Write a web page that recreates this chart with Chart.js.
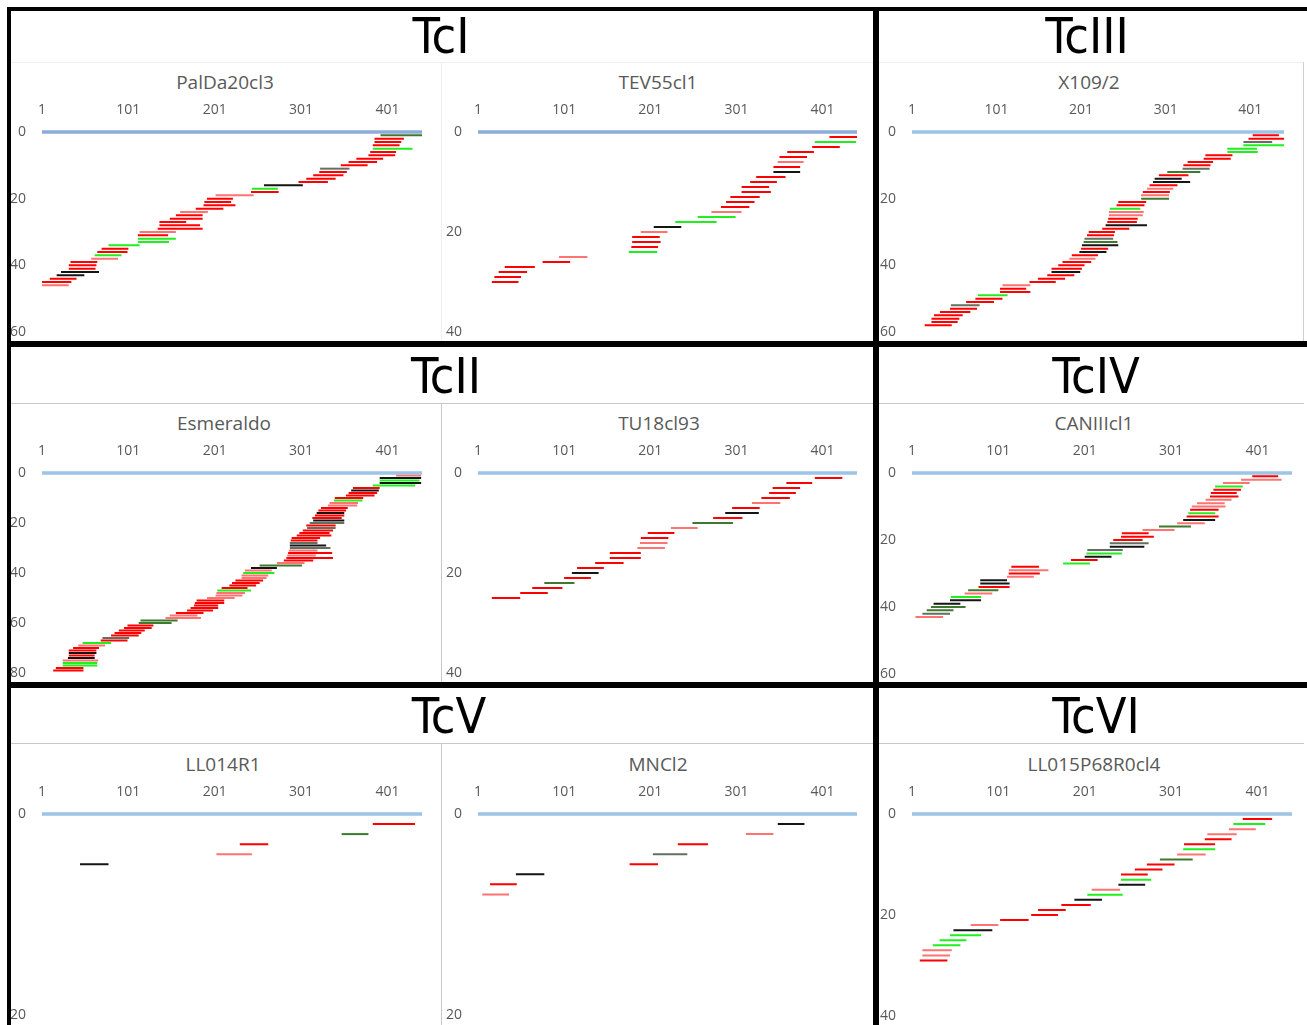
<!DOCTYPE html>
<html>
<head>
<meta charset="utf-8">
<title>Read coverage</title>
<script src="https://cdn.jsdelivr.net/npm/chart.js@4.4.1/dist/chart.umd.min.js"></script>
<style>
  html, body { margin: 0; padding: 0; background: #fff; }
  #fig { position: relative; width: 1307px; height: 1025px; overflow: hidden; background: #fff; }
  #fig canvas { position: absolute; z-index: 2; }
  .bar { position: absolute; background: #000; z-index: 6; }
  .thin { position: absolute; background: #d0d0d0; z-index: 1; }
  .group { position: absolute; z-index: 3; text-align: center; color: #000; line-height: 50px;
           font-family: "Liberation Sans Narrow", "Arial Narrow", "DejaVu Sans Condensed", sans-serif; font-size: 50px; }
  .sub { position: absolute; z-index: 3; text-align: center; color: #595959; line-height: 24px;
         font-family: "Open Sans", "Liberation Sans", sans-serif; font-size: 19px; }
</style>
</head>
<body>
<div id="fig"></div>
<script>
// shared axis values
const xTicks = [1, 101, 201, 301, 401];
const seqSpan = [1, 441];

// TcI - PalDa20cl3
const palStart = [393,386,386,384,384, 381,379,365,356,347, 323,322,315,307,298, 258,244,243,202,192,
                  189,188,179,161,156, 149,137,137,135,114, 112,112,112,78,70, 65,62,58,34,32, 32,23,18,10,1, 1];
const palEnd = [441,420,417,415,430, 411,410,396,389,378, 357,354,350,341,332, 303,274,275,246,222,
                220,225,211,193,187, 187,168,184,187,156, 147,156,148,114,101, 100,93,89,65,64, 63,67,50,41,35, 32];
const palColor = 'drrrg rrrrr srrrr kgrpr rrrpr rrrrp rgggr rgprr rkkrr p';

// TcI - TEV55cl1
const tevStart = [409,392,389,360,351, 349,344,344,324,317, 307,307,294,289,283, 272,256,230,205,190,
                  180,180,179,176,95, 76,32,25,20,17];
const tevEnd = [441,440,421,391,383, 379,375,375,358,348, 339,341,328,322,316, 307,300,278,237,221,
                212,213,210,209,128, 108,67,58,51,48];
const tevColor = 'rgrrr prkrr rrrrr pggkp rrrgp rrrrr';

// TcIII - X109/2
const x109Start = [404,399,393,393,374, 374,348,346,327,322, 321,303,293,288,286, 282,279,274,272,272,
                   245,243,235,234,234, 233,232,230,226,210, 208,205,204,202,201, 199,190,187,179,174,
                   166,166,161,150,140, 108,105,105,79,76, 65,47,46,34,27, 24,24,16];
const x109End = [435,441,427,441,409, 410,380,378,357,354, 353,342,328,320,330, 315,310,306,305,305,
                 278,276,271,275,274, 268,267,279,258,241, 240,239,244,245,233, 231,221,218,213,205,
                 202,200,193,182,171, 141,136,141,114,108, 98,81,78,70,61, 57,55,48];
const x109Color = 'rrsgg grrrr sdrkk rprpd rrgpp rrkrr rsdkr krprr rkrrr prrgr rsrrr rrr';

// TcII - Esmeraldo
const esmStart = [411,392,392,392,384, 361,359,356,353,340, 339,334,332,324,321, 319,317,314,315,311,
                  307,308,303,299,296, 290,289,288,288,288, 287,286,285,284,281, 273,253,243,236,234,
                  232,232,225,221,218, 209,204,203,202,192, 180,178,177,173,169, 156,149,144,115,113,
                  100,96,90,85,81, 71,69,48,43,37, 32,32,32,31,25, 25,25,17,14];
const esmEnd = [440,440,438,440,433, 392,391,389,386,373, 372,367,366,355,353, 351,351,348,351,351,
                341,341,338,334,336, 323,320,320,330,335, 320,337,318,338,315, 305,302,273,267,270,
                263,261,257,253,249, 239,243,236,233,224, 212,212,205,205,199, 188,181,185,158,151,
                130,128,120,116,113, 102,100,81,74,67, 64,64,62,62,66, 65,65,49,49];
const esmColor = 'pkgkg rkrrr gpprr krrks rsrrr rrsks prprr pdkpg pprrr rgppp rrrrr rppdd rrrrr srgpr rkrkp ggrr';

// TcII - TU18cl93
const tuStart = [392,359,343,339,330, 319,296,288,274,250, 225,198,190,189,186, 154,154,137,116,110,
                 101,78,64,50,17];
const tuEnd = [424,389,375,370,363, 352,328,327,308,297, 256,229,222,221,218, 190,190,170,147,141,
               132,113,99,82,50];
const tuColor = 'rrrrr prkrd prrpp rrrrk rdrrr';

// TcIV - CANIIIcl1
const canStart = [395,382,361,352,350, 347,346,341,331,325, 323,321,319,315,308, 287,268,244,243,234,
                  230,230,204,203,201, 185,176,116,113,113, 111,80,80,78,66, 62,46,45,26,23, 18,13,5];
const canEnd = [425,429,392,384,382, 377,379,371,363,364, 356,352,356,352,340, 324,305,275,281,268,
                275,270,245,244,232, 216,207,148,159,149, 142,111,114,114,101, 94,81,81,57,63, 49,45,37];
const canColor = 'rppgr rrppp rgrkp dprrr sksgk rgrpr pkkrd pgkkd dsp';

// TcV - LL014R1
const ll14Start = [384,348,230,203,45];
const ll14End = [433,379,263,244,78];
const ll14Color = 'rdrpk';

// TcV - MNCl2
const mnStart = [349,312,233,204,177,45,15,6];
const mnEnd = [380,344,268,244,210,78,46,37];
const mnColor = 'kprsr krp';

// TcVI - LL015P68R0cl4
const ll15Start = [384,373,368,343,340, 316,315,308,288,273, 259,243,243,240,209, 204,189,174,147,139,
                   103,69,49,45,33, 25,13,13,10];
const ll15End = [418,410,399,377,371, 352,352,341,326,305, 291,274,278,271,242, 245,221,208,179,170,
                 136,101,94,81,64, 57,47,45,42];
const ll15Color = 'rgppr rgpdr rrgkp gkrrr rpkgg gppr';

const COLORS = { r: '#ff0000', p: '#ff7373', g: '#1ef01e', d: '#3d7a2e', k: '#151515', s: '#627062' };
const TEXT = '#595959';
const TICK_FONT = { family: '"Open Sans", "Liberation Sans", sans-serif', size: 14 };

// plot = [left px of x=1, right px of x=441, top px of y=0, bottom px of y=max]
const panels = [
    { name: 'PalDa20cl3', start: palStart, end: palEnd, color: palColor, yMax: 60, plot: [42, 422, 132, 332], ref: '#8eaadb' },
    { name: 'TEV55cl1', start: tevStart, end: tevEnd, color: tevColor, yMax: 40, plot: [478, 857, 132, 332], ref: '#8eaadb' },
    { name: 'X109/2', start: x109Start, end: x109End, color: x109Color, yMax: 60, plot: [912, 1284, 132, 332], ref: '#9dc3e6' },
    { name: 'Esmeraldo', start: esmStart, end: esmEnd, color: esmColor, yMax: 80, plot: [42, 422, 473, 673], ref: '#9dc3e6' },
    { name: 'TU18cl93', start: tuStart, end: tuEnd, color: tuColor, yMax: 40, plot: [478, 857, 473, 673], ref: '#9dc3e6' },
    { name: 'CANIIIcl1', start: canStart, end: canEnd, color: canColor, yMax: 60, plot: [912, 1292, 473, 674], ref: '#9dc3e6' },
    { name: 'LL014R1', start: ll14Start, end: ll14End, color: ll14Color, yMax: 20, plot: [42, 422, 814, 1015], ref: '#9dc3e6' },
    { name: 'MNCl2', start: mnStart, end: mnEnd, color: mnColor, yMax: 20, plot: [478, 857, 814, 1015], ref: '#9dc3e6' },
    { name: 'LL015P68R0cl4', start: ll15Start, end: ll15End, color: ll15Color, yMax: 40, plot: [912, 1292, 814, 1016], ref: '#9dc3e6' }
];

const groups = [
    { text: 'TcI', cx: 441, top: 11 }, { text: 'TcIII', cx: 1087, top: 11 },
    { text: 'TcII', cx: 446, top: 351 }, { text: 'TcIV', cx: 1096, top: 351 },
    { text: 'TcV', cx: 449, top: 691 }, { text: 'TcVI', cx: 1096, top: 691 }
];
const subCenters = [[225, 82], [658, 82], [1089, 82], [224, 423], [659, 423], [1094, 423], [223, 764], [658, 764], [1094, 764]];

const fig = document.getElementById('fig');

function addDiv(cls, css, text) {
    const d = document.createElement('div');
    d.className = cls;
    Object.assign(d.style, css);
    if (text) d.textContent = text;
    fig.appendChild(d);
    return d;
}

// frame: thick black rules and thin grey chart borders
[[7, 7, 1300, 4], [7, 7, 4, 1018], [873, 7, 6, 1018], [7, 341, 1300, 6], [7, 682, 1300, 6]].forEach(function (b) {
    addDiv('bar', { left: b[0] + 'px', top: b[1] + 'px', width: b[2] + 'px', height: b[3] + 'px' });
});
[[11, 62, 862, 1, '#f0f0f0'], [879, 62, 425, 1, '#f0f0f0'], [441, 62, 1, 279, '#f0f0f0'], [1303, 62, 1, 279, '#d0d0d0'],
 [11, 403, 862, 1, '#c8c8c8'], [879, 403, 425, 1, '#c8c8c8'], [441, 403, 1, 279, '#c8c8c8'],
 [11, 743, 862, 1, '#c8c8c8'], [879, 743, 425, 1, '#c8c8c8'], [441, 743, 1, 282, '#c8c8c8']].forEach(function (b) {
    addDiv('thin', { left: b[0] + 'px', top: b[1] + 'px', width: b[2] + 'px', height: b[3] + 'px', background: b[4] });
});

groups.forEach(function (g) {
    addDiv('group', { left: (g.cx - 100) + 'px', top: g.top + 'px', width: '200px' }, g.text);
});

function buildDatasets(p) {
    const sets = [{
        data: [{ x: seqSpan[0], y: 0 }, { x: seqSpan[1], y: 0 }],
        borderColor: p.ref,
        borderWidth: 3.5
    }];
    const codes = p.color.replace(/ /g, '');
    Object.keys(COLORS).forEach(function (c) {
        const pts = [];
        for (let i = 0; i < p.start.length; i++) {
            if (codes[i] !== c) continue;
            pts.push({ x: p.start[i], y: i + 1 }, { x: p.end[i], y: i + 1 }, { x: p.end[i], y: null });
        }
        if (pts.length) sets.push({ data: pts, borderColor: COLORS[c], borderWidth: 2 });
    });
    return sets;
}

// y tick labels reserve half a label + tick padding below the plot, so the bottom pad must exceed that
const AXIS_W = 34, AXIS_H = 36, PAD_R = 8, PAD_B = 26;

panels.forEach(function (p, idx) {
    addDiv('sub', { left: (subCenters[idx][0] - 150) + 'px', top: (subCenters[idx][1] - 12) + 'px', width: '300px' }, p.name);

    const canvas = document.createElement('canvas');
    const w = p.plot[1] - p.plot[0] + AXIS_W + PAD_R;
    const h = p.plot[3] - p.plot[2] + AXIS_H + PAD_B;
    canvas.width = w;
    canvas.height = h;
    canvas.style.left = (p.plot[0] - AXIS_W) + 'px';
    canvas.style.top = (p.plot[2] - AXIS_H) + 'px';
    canvas.style.width = w + 'px';
    canvas.style.height = h + 'px';
    fig.appendChild(canvas);

    new Chart(canvas.getContext('2d'), {
        type: 'scatter',
        data: { datasets: buildDatasets(p) },
        options: {
            responsive: false,
            animation: false,
            devicePixelRatio: 1,
            layout: { padding: { top: 0, left: 0, right: PAD_R, bottom: PAD_B }, autoPadding: false },
            datasets: {
                scatter: { showLine: true, pointRadius: 0, pointHoverRadius: 0, spanGaps: false, clip: false, borderCapStyle: 'butt' }
            },
            scales: {
                x: {
                    type: 'linear',
                    position: 'top',
                    min: seqSpan[0],
                    max: seqSpan[1],
                    grid: { display: false, drawTicks: false },
                    border: { display: false },
                    afterBuildTicks: function (axis) { axis.ticks = xTicks.map(function (v) { return { value: v }; }); },
                    afterFit: function (s) { s.height = AXIS_H; },
                    ticks: { color: TEXT, font: TICK_FONT, padding: 14, maxRotation: 0, autoSkip: false }
                },
                y: {
                    type: 'linear',
                    reverse: true,
                    min: 0,
                    max: p.yMax,
                    grid: { display: false, drawTicks: false },
                    border: { display: false },
                    afterFit: function (s) { s.width = AXIS_W; },
                    ticks: { color: TEXT, font: TICK_FONT, padding: 16, stepSize: 20 }
                }
            },
            plugins: { legend: { display: false }, tooltip: { enabled: false } }
        }
    });
});
</script>
</body>
</html>
